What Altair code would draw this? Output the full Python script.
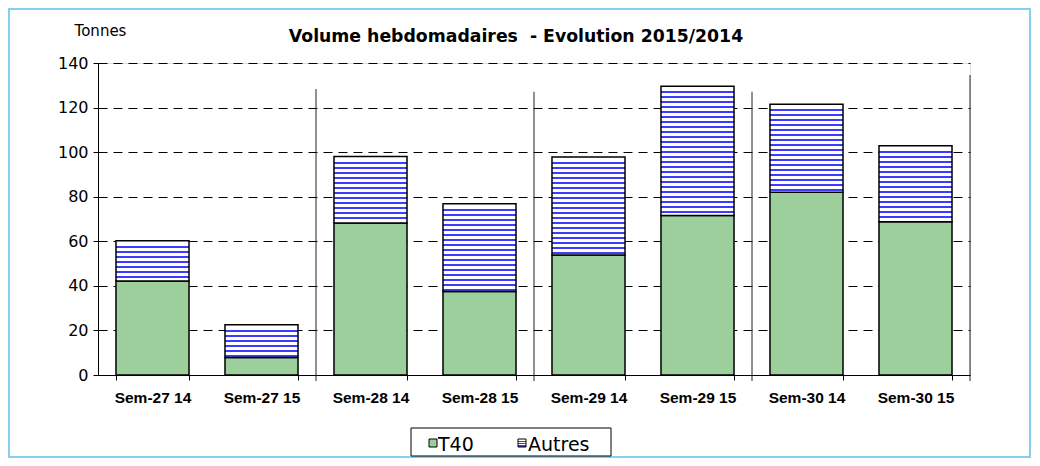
import altair as alt
import pandas as pd

# ---- data ----
categories = ["Sem-27 14", "Sem-27 15", "Sem-28 14", "Sem-28 15",
              "Sem-29 14", "Sem-29 15", "Sem-30 14", "Sem-30 15"]
t40 = [42.2, 7.8, 68.2, 37.5, 53.8, 71.6, 82.0, 68.8]
total = [60.2, 22.6, 98.0, 76.8, 97.8, 129.6, 121.5, 102.9]
series_names = ["T40", "Autres"]
y_ticks = [0, 20, 40, 60, 80, 100, 120, 140]
title_text = ["Volume hebdomadaires \u00a0- Evolution 2015/2014"]
# week separators (position in category units, top value)
sep_pos = [2, 4, 6, 8]
sep_top = [128.3, 127.1, 127.1, 134.6]

W, H = 872, 312
PX_PER_UNIT = H / 140.0
FONT = "Liberation Sans"
WIDE = "DejaVu Sans"
GREEN = "#9ccf9c"
BLUE = "#3c3cff"

df = pd.DataFrame({"cat": categories, "t40": t40, "total": total})
df_sep = pd.DataFrame({"pos": sep_pos, "top": sep_top})


def stripes(h_px, period=5.0, line=2.1):
    stops = [{"offset": 0, "color": "white"}]
    k = 1
    while k * period + line < h_px:
        a = (k * period) / h_px
        b = (k * period + line) / h_px
        stops += [{"offset": a, "color": "white"}, {"offset": a, "color": BLUE},
                  {"offset": b, "color": BLUE}, {"offset": b, "color": "white"}]
        k += 1
    stops.append({"offset": 1, "color": "white"})
    return {"gradient": "linear", "x1": 0, "y1": 0, "x2": 0, "y2": 1, "stops": stops}


conds = []
for c, a, t in zip(categories, t40, total):
    conds.append({"test": f"datum.cat === '{c}'", "value": stripes((t - a) * PX_PER_UNIT)})

xscale = alt.Scale(domain=categories, paddingInner=0.33, paddingOuter=0.165)
yscale = alt.Scale(domain=[0, 140], nice=False)

base = alt.Chart(df)

t40_bars = base.mark_bar(stroke="black", strokeWidth=1.5, fill=GREEN).encode(
    x=alt.X("cat:N", scale=xscale, sort=categories, title=None,
            axis=alt.Axis(labelAngle=0, tickBand="extent", labelFont=FONT,
                          labelFontSize=15.5, labelFontWeight="bold", labelColor="black",
                          labelBaseline="alphabetic", labelPadding=22,
                          tickSize=5, tickColor="black", domainColor="black",
                          grid=False)),
    y=alt.Y("t40:Q", scale=yscale, title="Tonnes",
            axis=alt.Axis(values=y_ticks, labelFont=WIDE, labelFontSize=16,
                          labelColor="black", labelPadding=5, tickSize=5,
                          tickColor="black", domainColor="black",
                          grid=True, gridColor="black", gridDash=[9, 6], gridWidth=1,
                          titleAngle=0, titleX=2, titleY=-33, titleAlign="center",
                          titleBaseline="middle", titleFont=WIDE, titleFontSize=15,
                          titleFontWeight="normal", titleColor="black")),
    y2=alt.Y2("zero:Q"),
).transform_calculate(zero="0")

autres_bars = base.mark_bar(stroke="black", strokeWidth=1.5).encode(
    x=alt.X("cat:N", scale=xscale, sort=categories, axis=None),
    y=alt.Y("total:Q", scale=yscale),
    y2="t40:Q",
    fill={"condition": conds, "value": "#c8c8ff"},
)

seps = alt.Chart(df_sep).mark_rule(color="#222", strokeWidth=1).encode(
    x=alt.X("pos:Q", scale=alt.Scale(domain=[0, 8], nice=False, zero=True), axis=None),
    y=alt.Y("top:Q", scale=yscale),
    y2=alt.value(H + 6),
)

title = alt.Chart(pd.DataFrame({"t": title_text})).mark_text(
    align="center", baseline="alphabetic", font=WIDE, fontSize=17.3,
    fontWeight="bold", color="black").encode(
    x=alt.value(418), y=alt.value(-21), text="t:N")

# ---- custom legend ----
leg = pd.DataFrame({"name": series_names})
box = alt.Chart(leg).transform_filter("datum.name === 'T40'").mark_rect(
    fill="white", stroke="black", strokeWidth=1).encode(
    x=alt.value(313), x2=alt.value(513), y=alt.value(365), y2=alt.value(393))
sym1 = alt.Chart(leg).transform_filter("datum.name === 'T40'").mark_rect(
    fill=GREEN, stroke="black", strokeWidth=1).encode(
    x=alt.value(331), x2=alt.value(339), y=alt.value(376), y2=alt.value(384))
txt1 = alt.Chart(leg).transform_filter("datum.name === 'T40'").mark_text(
    align="left", baseline="alphabetic", font=WIDE, fontSize=19, color="black").encode(
    x=alt.value(340), y=alt.value(388), text="name:N")
sym2 = alt.Chart(leg).transform_filter("datum.name === 'Autres'").mark_rect(
    stroke="black", strokeWidth=1,
    fill={"gradient": "linear", "x1": 0, "y1": 0, "x2": 0, "y2": 1,
          "stops": [{"offset": 0, "color": "white"}, {"offset": 0.2, "color": "white"},
                    {"offset": 0.2, "color": BLUE}, {"offset": 0.35, "color": BLUE},
                    {"offset": 0.35, "color": "white"}, {"offset": 0.5, "color": "white"},
                    {"offset": 0.5, "color": BLUE}, {"offset": 0.65, "color": BLUE},
                    {"offset": 0.65, "color": "white"}, {"offset": 0.8, "color": "white"},
                    {"offset": 0.8, "color": BLUE}, {"offset": 0.95, "color": BLUE},
                    {"offset": 0.95, "color": "white"}, {"offset": 1, "color": "white"}]}).encode(
    x=alt.value(420), x2=alt.value(428), y=alt.value(376), y2=alt.value(384))
txt2 = alt.Chart(leg).transform_filter("datum.name === 'Autres'").mark_text(
    align="left", baseline="alphabetic", font=WIDE, fontSize=19, color="black").encode(
    x=alt.value(430), y=alt.value(388), text="name:N")

frame = alt.Chart(leg).transform_filter("datum.name === 'T40'").mark_rect(
    fill=None, stroke="#87cef0", strokeWidth=2).encode(
    x=alt.value(-89), x2=alt.value(932), y=alt.value(-54), y2=alt.value(394))

chart = alt.layer(
    frame, t40_bars, autres_bars, seps, title, box, sym1, txt1, sym2, txt2
).resolve_scale(x="independent").properties(
    width=W, height=H,
    autosize=alt.AutoSizeParams(type="none"),
    padding={"left": 90, "top": 55, "right": 62, "bottom": 83},
).configure_view(stroke=None).configure(background="white")

chart.save("out.html", embed_options={"renderer": "svg", "actions": False})
